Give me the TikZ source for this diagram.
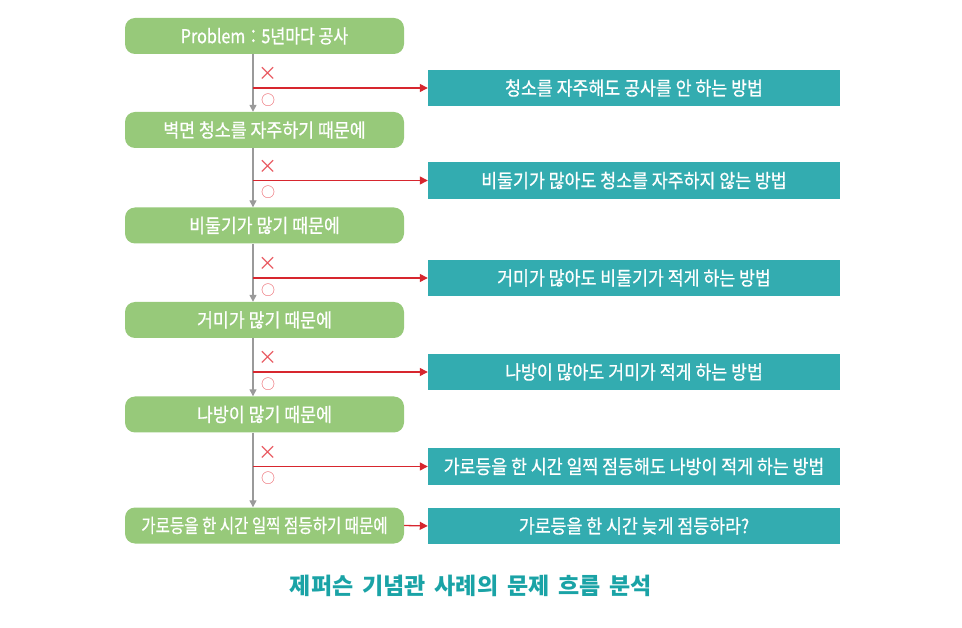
\documentclass[tikz,border=0pt]{standalone}
\usepackage{fontspec}
\setmainfont{Noto Sans CJK KR}
\newfontfamily\grfont[FakeStretch=0.9,FakeBold=0.7]{Noto Sans CJK KR}
\newfontfamily\grnarrow[FakeStretch=0.81,FakeBold=0.7]{Noto Sans CJK KR}
\newfontfamily\prfont[FakeStretch=0.84,FakeBold=0.7]{Noto Sans CJK KR}
\newfontfamily\tlfont[FakeStretch=0.9,FakeBold=0.7]{Noto Sans CJK KR}
\newfontfamily\capfont[WordSpace=1.7]{Noto Sans CJK KR}
\usetikzlibrary{arrows.meta}
\definecolor{boxgreen}{HTML}{97C97A}
\definecolor{boxteal}{HTML}{33ACB0}
\definecolor{linered}{HTML}{D7262E}
\definecolor{linegray}{HTML}{9A9A9A}
\definecolor{markred}{HTML}{E8545C}
\definecolor{capteal}{HTML}{1AA3A6}
\tikzset{
  greenbox/.style={fill=boxgreen, rounded corners=10pt, minimum width=279pt, minimum height=36pt, inner sep=0pt, text=white, font=\grfont\fontsize{19.2}{22}\selectfont},
  tealbox/.style={fill=boxteal, minimum width=412pt, minimum height=36.5pt, inner sep=0pt, text=white, font=\tlfont\fontsize{19.2}{22}\selectfont},
  grayarrow/.style={draw=linegray, line width=1.3pt, -{Triangle[length=7pt,width=7pt]}},
  redarrow/.style={draw=linered, line width=1.3pt, -{Triangle[length=8pt,width=8pt]}},
  marktext/.style={text=markred, inner sep=0pt, font=\fontsize{14}{16}\selectfont},
  crosstext/.style={text=markred, inner sep=0pt, font=\fontsize{19}{20}\selectfont},
}
\begin{document}
\begin{tikzpicture}[x=1pt,y=-1pt]
\useasboundingbox (0,0) rectangle (962,628);
% green boxes
\node[greenbox, font=\prfont\fontsize{19.2}{22}\selectfont] (g1) at (264.5,36) {Problem：5년마다 공사};
\node[greenbox] (g2) at (264.5,130) {벽면 청소를 자주하기 때문에};
\node[greenbox] (g3) at (264.5,225.5) {비둘기가 많기 때문에};
\node[greenbox] (g4) at (264.5,320) {거미가 많기 때문에};
\node[greenbox] (g5) at (264.5,414.5) {나방이 많기 때문에};
\node[greenbox, font=\grnarrow\fontsize{19.2}{22}\selectfont] (g6) at (264.5,525.5) {가로등을 한 시간 일찍 점등하기 때문에};
% teal boxes
\node[tealbox] (t1) at (634,88) {청소를 자주해도 공사를 안 하는 방법};
\node[tealbox] (t2) at (634,180.5) {비둘기가 많아도 청소를 자주하지 않는 방법};
\node[tealbox] (t3) at (634,278) {거미가 많아도 비둘기가 적게 하는 방법};
\node[tealbox] (t4) at (634,372) {나방이 많아도 거미가 적게 하는 방법};
\node[tealbox] (t5) at (634,466.5) {가로등을 한 시간 일찍 점등해도 나방이 적게 하는 방법};
\node[tealbox] (t6) at (634,526) {가로등을 한 시간 늦게 점등하라?};
% vertical connectors
\foreach \a/\b in {1/2,2/3,3/4,4/5,5/6}{
  \coordinate (s\a) at ([xshift=-11.5pt]g\a.south);
  \coordinate (e\a) at ([xshift=-11.5pt]g\b.north);
  \draw[grayarrow] (s\a) -- (e\a);
  \draw[redarrow] (s\a |- t\a.west) -- (t\a.west);
  \node[crosstext] (x\a) at ([xshift=15pt,yshift=14pt]s\a |- t\a.west) {×};
  \node[marktext] (o\a) at ([xshift=15pt,yshift=-12pt]s\a |- t\a.west) {○};
}
\draw[redarrow] (g6.east) -- (t6.west);
% caption
\node[text=capteal, inner sep=0pt, font=\capfont\bfseries\fontsize{23}{26}\selectfont] (cap) at (471,586) {제퍼슨 기념관 사례의 문제 흐름 분석};
\end{tikzpicture}
\end{document}
